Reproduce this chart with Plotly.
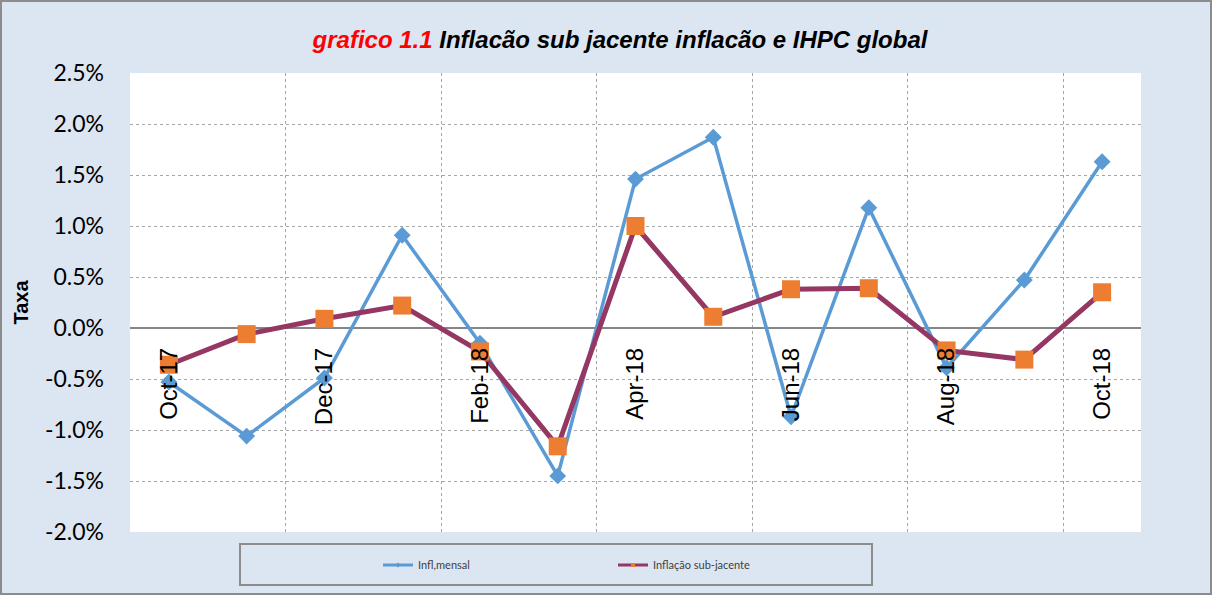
import plotly.graph_objects as go

months = ["Oct-17", "Nov-17", "Dec-17", "Jan-18", "Feb-18", "Mar-18", "Apr-18",
          "May-18", "Jun-18", "Jul-18", "Aug-18", "Sep-18", "Oct-18"]
infl_mensal = [-0.53, -1.06, -0.49, 0.91, -0.15, -1.45, 1.46, 1.87, -0.87, 1.18, -0.39, 0.47, 1.63]
infl_sub = [-0.36, -0.06, 0.09, 0.22, -0.23, -1.16, 1.00, 0.11, 0.38, 0.39, -0.22, -0.31, 0.35]
y_ticks = [-2.0, -1.5, -1.0, -0.5, 0.0, 0.5, 1.0, 1.5, 2.0, 2.5]
label_months = months[::2]
name_mensal = "Infl,mensal"
name_sub = "Inflação sub-jacente"

BLUE = "#5b9bd5"
PURPLE = "#953763"
ORANGE = "#ed7d31"
BG = "#dce6f2"
GRID = "#a6a6a6"

fig = go.Figure()
fig.add_trace(go.Scatter(x=months, y=infl_mensal, mode="lines+markers", name=name_mensal,
                         line=dict(color=BLUE, width=3.5),
                         marker=dict(symbol="diamond", size=13, color=BLUE),
                         showlegend=False))
fig.add_trace(go.Scatter(x=months, y=infl_sub, mode="lines+markers", name=name_sub,
                         line=dict(color=PURPLE, width=5),
                         marker=dict(symbol="square", size=18, color=ORANGE),
                         showlegend=False))
# legend entries
fig.add_trace(go.Scatter(x=[None], y=[None], mode="lines+markers", name=name_mensal,
                         line=dict(color=BLUE, width=3),
                         marker=dict(symbol="diamond", size=4, color=BLUE)))
fig.add_trace(go.Scatter(x=[None], y=[None], mode="lines+markers", name=name_sub,
                         line=dict(color=PURPLE, width=3),
                         marker=dict(symbol="square", size=4, color=ORANGE)))

n = len(months)
grid_vals = [i + 0.5 for i in range(1, n - 1, 2)]

fig.update_layout(
    width=1212, height=595,
    margin=dict(l=130, r=71, t=73, b=63),
    paper_bgcolor=BG, plot_bgcolor="white",
    title=dict(
        text='<b><i><span style="color:#ff0000">grafico 1.1</span> Inflacão sub jacente inflacão e IHPC global</i></b>',
        font=dict(family="Liberation Sans", size=24, color="black"),
        x=(620 - 130) / 1011, xref="paper", xanchor="center",
        y=1 - 40 / 595, yref="container", yanchor="middle"),
    xaxis=dict(type="category", range=[-0.5, n - 0.5], tickmode="array",
               tickvals=label_months, ticktext=label_months, tickangle=-90,
               anchor="free", position=2.0 / 4.5, side="bottom",
               showgrid=False, showline=False, ticks="", zeroline=False,
               ticklabelstandoff=14,
               tickfont=dict(family="Liberation Sans", size=24, color="black")),
    xaxis2=dict(overlaying="x", anchor="y", range=[-0.5, n - 0.5], tickmode="array",
                tickvals=grid_vals, showticklabels=False, ticks="", showline=False,
                showgrid=True, gridcolor=GRID, griddash="dot", gridwidth=1, zeroline=False),
    yaxis=dict(range=[-2.0, 2.5], tickmode="array", tickvals=y_ticks,
               ticktext=[f"{v:.1f}%" for v in y_ticks],
               showgrid=True, gridcolor=GRID, griddash="dot", gridwidth=1,
               zeroline=True, zerolinecolor="#868686", zerolinewidth=1.5,
               showline=False, ticks="", ticklabelstandoff=25,
               tickfont=dict(family="Lato", size=23, color="black"),
               title=dict(text="<b>Taxa</b>", standoff=10,
                          font=dict(family="Liberation Sans", size=20, color="black"))),
    legend=dict(orientation="h", x=(378 - 130) / 1011, xanchor="left",
                y=(532 - 565) / 459, yanchor="middle",
                bgcolor="rgba(0,0,0,0)", borderwidth=0,
                entrywidth=190, entrywidthmode="pixels",
                font=dict(family="Lato", size=11, color="#404040")),
    shapes=[
        dict(type="rect", xref="paper", yref="paper",
             x0=(240 - 130) / 1011, x1=(872 - 130) / 1011,
             y0=(532 - 585) / 459, y1=(532 - 544) / 459,
             line=dict(color="#8c8c8c", width=2), fillcolor="rgba(0,0,0,0)"),
        dict(type="rect", xref="paper", yref="paper",
             x0=(1 - 130) / 1011, x1=(1211 - 130) / 1011,
             y0=(532 - 594) / 459, y1=(532 - 1) / 459,
             line=dict(color="#8c8c8c", width=2), fillcolor="rgba(0,0,0,0)"),
    ],
)
# invisible trace so xaxis2 is active
fig.add_trace(go.Scatter(x=[None], y=[None], xaxis="x2", yaxis="y", showlegend=False,
                         hoverinfo="skip"))

fig.write_html("out.html", config={"displayModeBar": False},
               post_script="document.body.style.margin='0';document.body.style.overflow='hidden';")
